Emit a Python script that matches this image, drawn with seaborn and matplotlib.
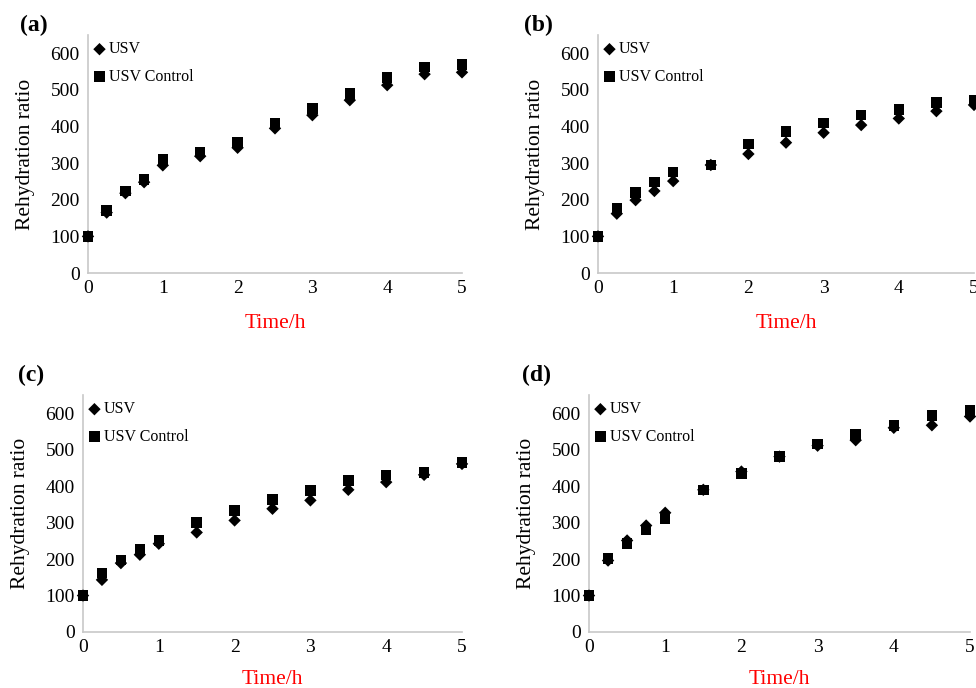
import numpy as np
import pandas as pd
import matplotlib
matplotlib.use("Agg")
import matplotlib.pyplot as plt
import seaborn as sns

# sampling times (h)
time_h = [0, 0.25, 0.5, 0.75, 1, 1.5, 2, 2.5, 3, 3.5, 4, 4.5, 5]

# rehydration ratio
usv_a = [100, 165, 218, 248, 294, 319, 342, 395, 431, 472, 513, 543, 548]
ctrl_a = [100, 170, 224, 255, 310, 331, 356, 410, 450, 490, 534, 563, 570]
usv_b = [100, 162, 199, 224, 251, 295, 325, 356, 383, 404, 422, 442, 459]
ctrl_b = [100, 176, 220, 249, 276, 295, 352, 386, 410, 431, 447, 466, 472]
usv_c = [100, 143, 189, 212, 242, 273, 306, 338, 361, 390, 411, 431, 461]
ctrl_c = [100, 162, 198, 226, 251, 300, 333, 364, 388, 416, 431, 437, 465]
usv_d = [100, 196, 251, 292, 327, 390, 440, 481, 511, 526, 560, 567, 591]
ctrl_d = [100, 201, 242, 280, 310, 390, 434, 481, 516, 542, 567, 594, 607]

panel_names = ["(a)", "(b)", "(c)", "(d)"]
series_names = ["USV", "USV Control"]
y_ticks = [0, 100, 200, 300, 400, 500, 600]
x_ticks = [0, 1, 2, 3, 4, 5]

sns.set_style("white")
plt.rcParams["font.family"] = ["Liberation Serif", "DejaVu Serif"]
plt.rcParams.update({"text.color": "black", "axes.labelcolor": "black",
                     "xtick.color": "black", "ytick.color": "black"})

fig = plt.figure(figsize=(9.76, 6.88), dpi=100)
W, H = 976, 688
# axes boxes in pixels: left, right, bottom(y0 px), top px
boxes = [(88, 462, 273, 35), (598, 974, 273, 35),
         (83, 462, 632, 395), (589, 970, 632, 395)]
label_pos = [(20, 25), (524, 25), (18, 375), (522, 375)]
xlab_gap = [41, 41, 38, 38]
data = [(usv_a, ctrl_a), (usv_b, ctrl_b), (usv_c, ctrl_c), (usv_d, ctrl_d)]

for i, (l, r, b, t) in enumerate(boxes):
    ax = fig.add_axes([l / W, (H - b) / H, (r - l) / W, (b - t) / H])
    ax.patch.set_alpha(0)
    usv, ctrl = data[i]
    df = pd.DataFrame({"Time": time_h * 2,
                       "Ratio": usv + ctrl,
                       "Sample": [series_names[0]] * len(time_h) + [series_names[1]] * len(time_h)})
    sns.scatterplot(data=df[df.Sample == "USV"], x="Time", y="Ratio", marker="D",
                    color="black", s=40, edgecolor="none", label="USV", ax=ax,
                    clip_on=False, zorder=3)
    sns.scatterplot(data=df[df.Sample == "USV Control"], x="Time", y="Ratio", marker="s",
                    color="black", s=58, edgecolor="none", label="USV Control", ax=ax,
                    clip_on=False, zorder=4)
    ax.set_xlim(0, 5)
    ax.set_ylim(0, 650)
    ax.set_xticks(x_ticks)
    ax.set_yticks(y_ticks)
    ax.tick_params(length=0, labelsize=14)
    ax.tick_params(axis="y", pad=6)
    ax.tick_params(axis="x", pad=5)
    for s in ["top", "right"]:
        ax.spines[s].set_visible(False)
    for s in ["left", "bottom"]:
        ax.spines[s].set_color("#c8c8c8")
        ax.spines[s].set_linewidth(1.2)
    ax.set_xlabel("Time/h", color="red", fontsize=15.5)
    ax.set_ylabel("Rehydration ratio", fontsize=15.5)
    ax.xaxis.set_label_coords(0.5, -xlab_gap[i] / (b - t))
    ax.yaxis.set_label_coords(-53 / (r - l), 0.5)
    ax.legend(loc="upper left", bbox_to_anchor=(-0.012, 1.0), frameon=False, fontsize=11.5,
              handletextpad=0.0, labelspacing=0.7, borderaxespad=0.2, handlelength=1.2,
              borderpad=0.2)
    fig.text(label_pos[i][0] / W, 1 - label_pos[i][1] / H, panel_names[i],
             fontsize=17, fontweight="bold", va="center", ha="left")

fig.savefig("out.png", dpi=100)
